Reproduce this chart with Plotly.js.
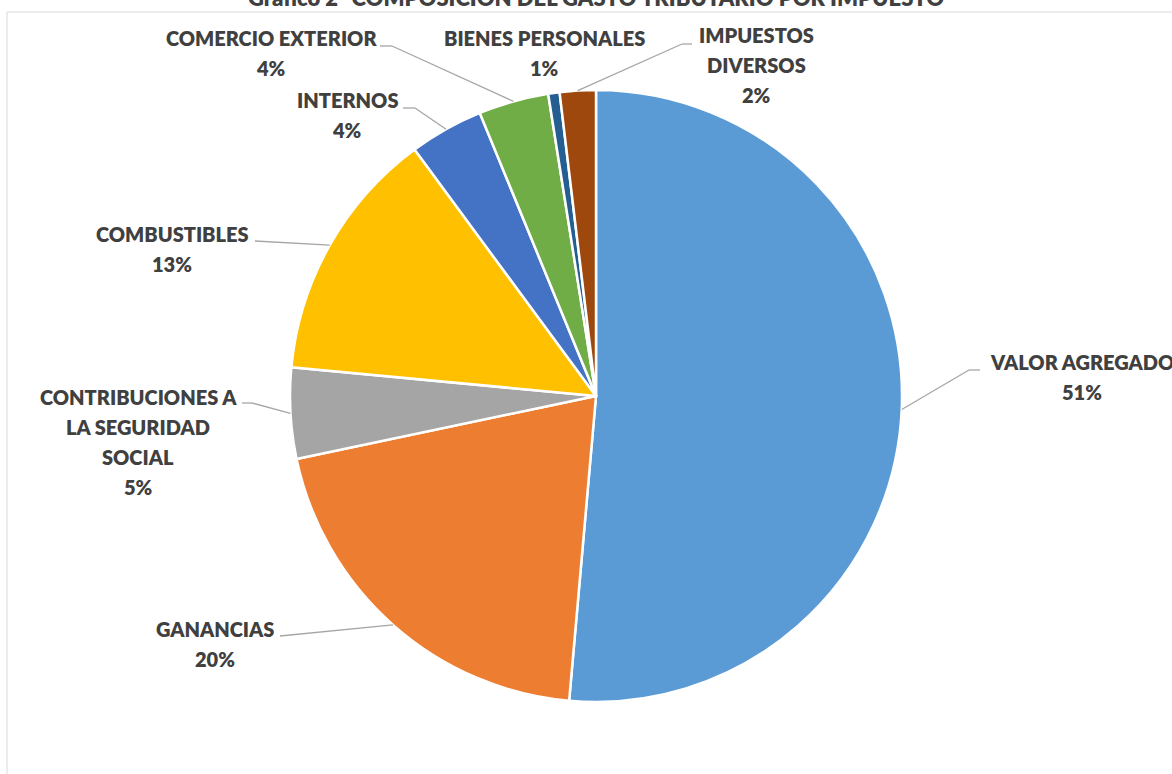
<!DOCTYPE html>
<html><head><meta charset="utf-8">
<script src="https://cdn.plot.ly/plotly-3.0.1.min.js"></script>
<style>html,body{margin:0;padding:0;background:#fff;overflow:hidden;} #chart{width:1172px;height:774px;}</style>
</head><body><div id="chart"></div>
<script>
// ---- data ----
const categories = ["VALOR AGREGADO","GANANCIAS","CONTRIBUCIONES A LA SEGURIDAD SOCIAL","COMBUSTIBLES","INTERNOS","COMERCIO EXTERIOR","BIENES PERSONALES","IMPUESTOS DIVERSOS"];
const labelLines = [["VALOR AGREGADO"],["GANANCIAS"],["CONTRIBUCIONES A","LA SEGURIDAD","SOCIAL"],["COMBUSTIBLES"],["INTERNOS"],["COMERCIO EXTERIOR"],["BIENES PERSONALES"],["IMPUESTOS","DIVERSOS"]];
const shares = [51.4, 20.3, 4.8, 13.4, 3.9, 3.7, 0.6, 1.9];
const titleText = "Gráfico 2- COMPOSICIÓN DEL GASTO TRIBUTARIO POR IMPUESTO";

// ---- style / layout config ----
const colors = ["#5B9BD5","#ED7D31","#A5A5A5","#FFC000","#4472C4","#70AD47","#255E91","#9E480E"];
const W = 1172, H = 774, CX = 596, CY = 396, R = 306;
const FONT = "Lato, 'Open Sans', sans-serif";
const TXT = "#404040", LEAD = "#A6A6A6";
const LINE_GAP = 30;
const WEIGHT = 800;
// label block: centre x, centre y of first line, leader elbow & end (pixels)
const labelCfg = [
  {x:1082, y:362, pts:[[969,370],[980,370]]},
  {x:215,  y:629, pts:[[280,636]]},
  {x:138,  y:397, pts:[[252,403],[242,403]]},
  {x:172,  y:234, pts:[[255,241]]},
  {x:347,  y:100, pts:[[415,108],[403,108]]},
  {x:271,  y:38,  pts:[[392,46],[380,46]]},
  {x:544,  y:38,  pts:[]},
  {x:756,  y:35,  pts:[[682,44],[692,44]]}
];

const px = x => x / W;
const py = y => 1 - y / H;
const total = shares.reduce((a,b)=>a+b,0);

const annotations = [];
const shapes = [];
// chart border
shapes.push({type:'rect', xref:'paper', yref:'paper', x0:px(7), x1:px(W+20), y0:py(12), y1:py(H+20),
  line:{color:'#D9D9D9', width:1}, fillcolor:'rgba(0,0,0,0)', layer:'below'});

let cum = 0;
shares.forEach((v,i)=>{
  const th = (cum + v/2) / total * 2 * Math.PI;
  cum += v;
  const sx = CX + R*Math.sin(th), sy = CY - R*Math.cos(th);
  const cfg = labelCfg[i];
  let prev = [sx, sy];
  cfg.pts.forEach(p=>{
    shapes.push({type:'line', xref:'paper', yref:'paper', x0:px(prev[0]), y0:py(prev[1]), x1:px(p[0]), y1:py(p[1]),
      line:{color:LEAD, width:1.3}});
    prev = p;
  });
  const lines = labelLines[i].concat([Math.round(v/total*100) + '%']);
  lines.forEach((t,k)=>{
    annotations.push({xref:'paper', yref:'paper', x:px(cfg.x), y:py(cfg.y + k*LINE_GAP), text:t, showarrow:false,
      xanchor:'center', yanchor:'middle', font:{family:FONT, size:20, color:TXT, weight:WEIGHT}});
  });
});

annotations.push({xref:'paper', yref:'paper', x:px(596), y:py(-2), text:titleText, showarrow:false,
  xanchor:'center', yanchor:'middle', font:{family:FONT, size:22, color:TXT, weight:WEIGHT}});

const trace = {
  type:'pie', values:shares, labels:categories, sort:false, direction:'clockwise', rotation:0,
  marker:{colors:colors, line:{color:'#FFFFFF', width:2.5}},
  textinfo:'none', hoverinfo:'label+percent', showlegend:false,
  domain:{x:[px(CX-R), px(CX+R)], y:[py(CY+R), py(CY-R)]}
};

Plotly.newPlot('chart', [trace], {
  width:W, height:H, margin:{l:0,r:0,t:0,b:0,pad:0},
  paper_bgcolor:'#FFFFFF', plot_bgcolor:'#FFFFFF',
  showlegend:false, annotations:annotations, shapes:shapes
}, {displayModeBar:false, staticPlot:true});
</script>
</body></html>
